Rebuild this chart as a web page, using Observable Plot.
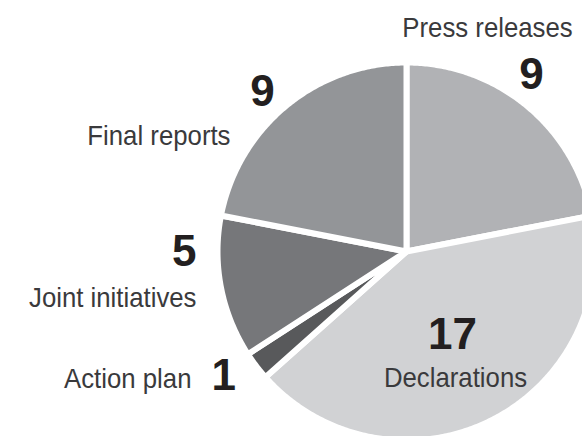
<!DOCTYPE html>
<html>
<head>
<meta charset="utf-8">
<script src="https://cdn.jsdelivr.net/npm/d3@7"></script>
<script src="https://cdn.jsdelivr.net/npm/@observablehq/plot@0.6"></script>
<style>
  html, body { margin: 0; padding: 0; background: #fff; }
  #chart { width: 582px; height: 436px; overflow: hidden; }
</style>
</head>
<body>
<div id="chart"></div>
<script>
// ---- data ----
const categories = ["Press releases", "Declarations", "Action plan", "Joint initiatives", "Final reports"];
const values = [9, 17, 1, 5, 9];
const colors = ["#b1b2b5", "#d1d2d4", "#58595b", "#76777a", "#939598"];

// ---- layout (pixels, relative to pie centre) ----
const W = 582, H = 436;
const CX = 406, CY = 251, R = 189;
const LABEL_SQUEEZE = 0.92;
const layout = {
  "Press releases":    {num: [125, -163, "middle"], lab: [81, -215, "middle"]},
  "Declarations":      {num: [46, 97, "middle"],  lab: [49, 135, "middle"]},
  "Action plan":       {num: [-195, 138, "start"], lab: [-215, 136, "end"]},
  "Joint initiatives": {num: [-210, 14, "end"],   lab: [-210, 55, "end"]},
  "Final reports":     {num: [-144, -146, "middle"], lab: [-176, -107, "end"]}
};

const pie = d3.pie().sort(null).value(d => d.value)
  (categories.map((c, i) => ({category: c, value: values[i]})));

const pts = [];
for (const s of pie) {
  const c = s.data.category;
  pts.push({category: c, x: 0, y: 0});
  const n = Math.max(2, Math.ceil((s.endAngle - s.startAngle) / 0.01));
  for (let k = 0; k <= n; k++) {
    const a = s.startAngle + (s.endAngle - s.startAngle) * k / n;
    pts.push({category: c, x: R * Math.sin(a), y: R * Math.cos(a)});
  }
  pts.push({category: c, x: 0, y: 0});
}

const nums = pie.map(s => {
  const L = layout[s.data.category].num;
  return {category: s.data.category, text: String(s.data.value), x: L[0], y: -L[1], anchor: L[2]};
});
const labs = pie.map(s => {
  const L = layout[s.data.category].lab;
  return {category: s.data.category, text: s.data.category, x: L[0], y: -L[1], anchor: L[2]};
});

const textMarks = [];
for (const anchor of ["start", "middle", "end"]) {
  textMarks.push(Plot.text(nums.filter(d => d.anchor === anchor), {
    x: "x", y: "y", text: "text", textAnchor: anchor, lineAnchor: "bottom",
    fontSize: 44, fontWeight: "bold", fill: "#231f20",
    fontFamily: "'Liberation Sans', Arial, sans-serif"
  }));
  textMarks.push(Plot.text(labs.filter(d => d.anchor === anchor), {
    x: "x", y: "y", text: "text", textAnchor: anchor, lineAnchor: "bottom",
    fontSize: 28, fill: "#3a3a3c",
    fontFamily: "'Liberation Sans', Arial, sans-serif"
  }));
}

const chart = Plot.plot({
  width: W, height: H,
  margin: 0,
  x: {domain: [-CX, W - CX], axis: null},
  y: {domain: [-(H - CY), CY], axis: null},
  color: {domain: categories, range: colors},
  marks: [
    Plot.line(pts, {x: "x", y: "y", z: "category", fill: "category",
      stroke: "white", strokeWidth: 6, strokeLinejoin: "round", curve: "linear"}),
    ...textMarks
  ]
});
chart.style.background = "#fff";
document.getElementById("chart").appendChild(chart);

// squeeze category labels horizontally to mimic the condensed original typeface
chart.querySelectorAll("text").forEach(t => {
  if (categories.includes(t.textContent)) {
    const len = t.getComputedTextLength();
    t.setAttribute("textLength", (len * LABEL_SQUEEZE).toFixed(1));
    t.setAttribute("lengthAdjust", "spacingAndGlyphs");
  }
});
</script>
</body>
</html>
